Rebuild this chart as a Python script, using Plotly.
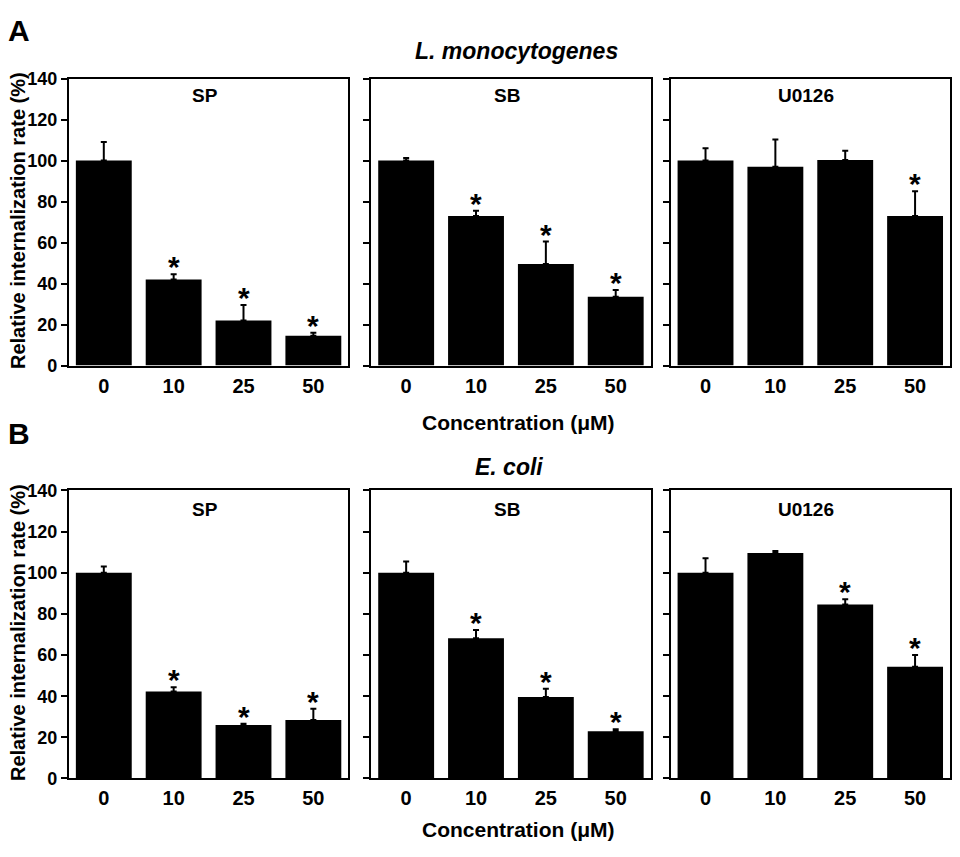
import plotly.graph_objects as go

# concentrations (uM) on the x axis
categories = ['0', '10', '25', '50']

# A: L. monocytogenes
lm_sp = [100, 42, 22, 14.5]
lm_sp_err = [9, 2.5, 7.5, 1.5]
lm_sp_sig = [False, True, True, True]

lm_sb = [100, 73, 49.5, 33.5]
lm_sb_err = [1.2, 2.5, 11, 3.4]
lm_sb_sig = [False, True, True, True]

lm_u0126 = [100, 97, 100.3, 73]
lm_u0126_err = [6, 13.3, 4.5, 12]
lm_u0126_sig = [False, False, False, True]

# B: E. coli
ec_sp = [100, 42.3, 26, 28.4]
ec_sp_err = [3, 2, 0.6, 5.5]
ec_sp_sig = [False, True, True, True]

ec_sb = [100, 68.2, 39.6, 22.9]
ec_sb_err = [5.5, 4, 4, 1]
ec_sb_sig = [False, True, True, True]

ec_u0126 = [100, 109.6, 84.6, 54.3]
ec_u0126_err = [7, 1, 2.5, 5.7]
ec_u0126_sig = [False, False, True, True]

inhibitors = ['SP', 'SB', 'U0126']
y_ticks = [0, 20, 40, 60, 80, 100, 120, 140]

FONT = 'Liberation Sans, Arial, sans-serif'

# page is 960x857, body margin of 8px around the plot div
OFF = 8
W, H = 960 - 2 * OFF, 857 - 2 * OFF


def px(x):
    return (x - OFF) / W


def py(y):
    return 1 - (y - OFF) / H


# panel frames in page pixels
col_px = [(69, 349), (372, 652), (672, 952)]
row_px = [(70, 364), (492, 787)]
title_dy = [17, 19]

panels = [
    (lm_sp, lm_sp_err, lm_sp_sig), (lm_sb, lm_sb_err, lm_sb_sig), (lm_u0126, lm_u0126_err, lm_u0126_sig),
    (ec_sp, ec_sp_err, ec_sp_sig), (ec_sb, ec_sb_err, ec_sb_sig), (ec_u0126, ec_u0126_err, ec_u0126_sig),
]

fig = go.Figure()
annotations = []

for i, (vals, errs, sig) in enumerate(panels):
    n = i + 1
    r, c = divmod(i, 3)
    xa = 'x' if n == 1 else 'x%d' % n
    ya = 'y' if n == 1 else 'y%d' % n

    fig.add_trace(go.Bar(
        x=categories, y=vals,
        marker=dict(color='black', line=dict(width=0)),
        error_y=dict(type='data', array=errs, arrayminus=[0] * len(errs),
                     symmetric=False, color='black', thickness=2, width=3),
        xaxis=xa, yaxis=ya, showlegend=False,
    ))

    x0, x1 = col_px[c]
    top, bot = row_px[r]

    fig.layout['xaxis' if n == 1 else 'xaxis%d' % n] = dict(
        domain=[px(x0), px(x1)], anchor=ya, type='category', range=[-0.5, 3.5],
        showline=True, linecolor='black', linewidth=2, mirror=True,
        ticks='', ticklabelstandoff=1,
        tickfont=dict(family=FONT, size=20, color='black', weight='bold'),
        showgrid=False, zeroline=False, fixedrange=True,
    )
    fig.layout['yaxis' if n == 1 else 'yaxis%d' % n] = dict(
        domain=[py(bot), py(top)], anchor=xa, range=[0, 140], tickvals=y_ticks,
        showticklabels=(c == 0),
        showline=True, linecolor='black', linewidth=2, mirror=True,
        ticks='outside', ticklen=6, tickwidth=1.5, tickcolor='black',
        tickfont=dict(family=FONT, size=18, color='black', weight='bold'),
        showgrid=False, zeroline=False, fixedrange=True,
    )

    # inhibitor name inside the panel
    annotations.append(dict(
        x=px((x0 + x1) / 2 - 4), y=py(top + title_dy[r]), xref='paper', yref='paper',
        xanchor='center', yanchor='middle',
        text='<b>%s</b>' % inhibitors[c], showarrow=False,
        font=dict(family=FONT, size=19, color='black'),
    ))

    # significance stars above the error bars (category index on x)
    for k, (v, e, s) in enumerate(zip(vals, errs, sig)):
        if s:
            annotations.append(dict(
                x=k, y=v + e, xref=xa, yref=ya, text='<b>*</b>',
                showarrow=False, xanchor='center', yanchor='bottom', yshift=-11,
                font=dict(family=FONT, size=30, color='black'),
            ))

# panel letters, organism titles, axis titles (page pixel centres)
rows = [('A', 'L. monocytogenes', 21, 42, 518, 422, 215),
        ('B', 'E. coli', 434, 468, 510, 839, 637)]
for letter, organism, y_let, y_org, x_org, y_conc, y_ytitle in rows:
    annotations.append(dict(
        x=px(19), y=py(y_let), xref='paper', yref='paper',
        xanchor='center', yanchor='middle',
        text='<b>%s</b>' % letter, showarrow=False,
        font=dict(family=FONT, size=30, color='black'),
    ))
    annotations.append(dict(
        x=px(x_org), y=py(y_org), xref='paper', yref='paper',
        xanchor='center', yanchor='middle',
        text='<b><i>%s</i></b>' % organism, showarrow=False,
        font=dict(family=FONT, size=23, color='black'),
    ))
    annotations.append(dict(
        x=px(520), y=py(y_conc), xref='paper', yref='paper',
        xanchor='center', yanchor='middle',
        text='<b>Concentration (μM)</b>', showarrow=False,
        font=dict(family=FONT, size=21, color='black'),
    ))
    annotations.append(dict(
        x=px(18), y=py(y_ytitle), xref='paper', yref='paper',
        xanchor='center', yanchor='middle',
        text='<b>Relative internalization rate (%)</b>', showarrow=False,
        textangle=-90, font=dict(family=FONT, size=20, color='black'),
    ))

fig.update_layout(
    width=W, height=H,
    margin=dict(l=0, r=0, t=0, b=0),
    paper_bgcolor='white', plot_bgcolor='white',
    bargap=0.2,
    annotations=annotations,
)

fig.write_html('out.html')
